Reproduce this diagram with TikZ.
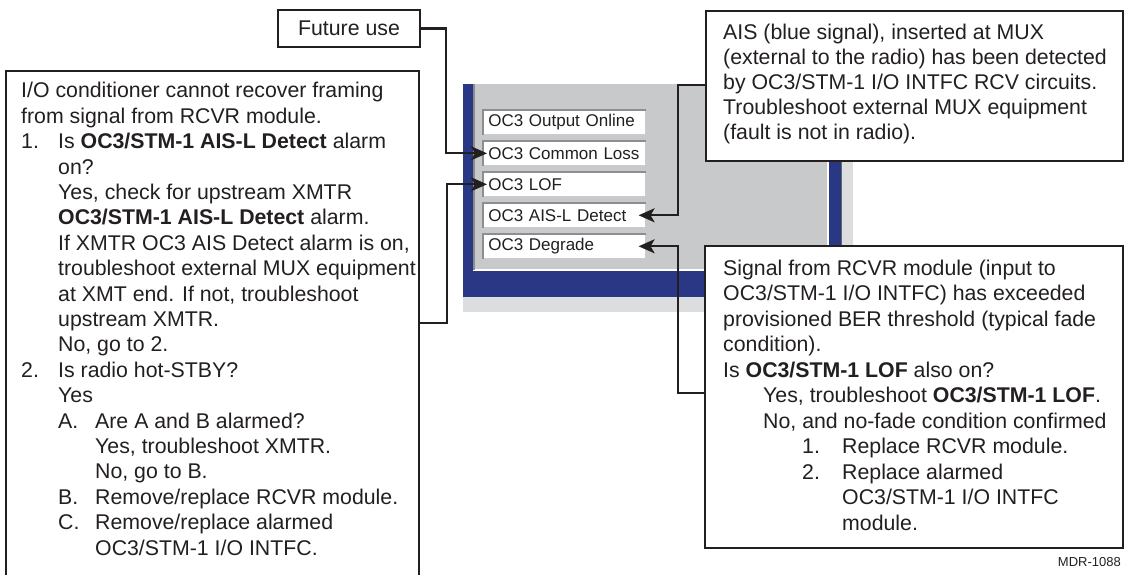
\documentclass[tikz,border=0pt]{standalone}
\usepackage{fontspec}
\setmainfont{Liberation Sans}
\definecolor{ink}{HTML}{231F20}
\definecolor{screenblue}{HTML}{2A3784}
\definecolor{panelgray}{HTML}{C8C9CB}
\definecolor{edgegray}{HTML}{DCDDDE}
\definecolor{fieldline}{HTML}{8C8E91}
\usetikzlibrary{arrows.meta, positioning, calc}
\tikzset{
  callout/.style={
    draw=ink, fill=white, line width=2pt, inner sep=0pt,
    anchor=north west, text=ink,
    font=\fontsize{21.3pt}{25.5pt}\selectfont
  },
  calltext/.style={
    font=\fontsize{21.3pt}{#1}\selectfont, text=ink,
    align=left, inner sep=0pt, anchor=base west
  },
  calltext/.default=25.5pt,
  field/.style={
    fill=white, draw=black!20, line width=0.6pt,
    minimum width=162pt, minimum height=24pt, text width=152pt,
    inner xsep=5pt, inner ysep=0pt, align=left, anchor=north west,
    font=\fontsize{17pt}{20pt}\selectfont, text=ink
  },
  arr/.style={-{Stealth[length=16pt,width=14pt,inset=4pt]}, line width=2.2pt, draw=ink},
  lbl/.style={font=\fontsize{13pt}{15pt}\selectfont, text=ink, inner sep=0pt},
}
\newcommand{\indentby}[1]{\hspace*{#1pt}}
\newcommand{\itemlbl}[2][37]{\makebox[#1pt][l]{#2}}

\begin{document}
\begin{tikzpicture}[x=1pt, y=-1pt]
    \useasboundingbox (0,0) rectangle (1127,574);

    % alarm screen
    \fill[edgegray] (463,84) rectangle (853,312);
    \fill[screenblue] (463,84) rectangle (841,297);
    \draw[black!60, line width=1pt] (841.5,84) -- (841.5,297);
    \fill[panelgray] (473,84) rectangle (828,270);
    \draw[white, line width=1.5pt] (473,270) -- (828,270) -- (828,84);
    \draw[black!45, line width=2pt] (474,84) -- (474,270);

    \foreach \name/\top/\txt in {f1/110/OC3 Output Online, f2/141/OC3 Common Loss,
        f3/172/OC3 LOF, f4/203/OC3 AIS-L Detect, f5/234/OC3 Degrade} {
      \node[field] (\name) at (483,\top) {\txt};
      \draw[fieldline, line width=1.5pt] (\name.south west) |- (\name.north east);
    }

    % callouts (text nodes sit on the baseline of their last line)
    \node[callout, minimum width=142pt, minimum height=37pt] (future) at (277,9) {Future use};

    \node[callout, minimum width=413pt, minimum height=530pt] (cond) at (5,70) {};
    \node[calltext=25.4pt] (condtext) at (21,555) {%
      I/O conditioner cannot recover framing\\
      from signal from RCVR module.\\
      \itemlbl{1.}Is \textbf{OC3/STM-1 AIS-L Detect} alarm\\
      \indentby{37}on?\\
      \indentby{37}Yes, check for upstream XMTR\\
      \indentby{37}\textbf{OC3/STM-1 AIS-L Detect} alarm.\\
      \indentby{37}If XMTR OC3 AIS Detect alarm is on,\\
      \indentby{37}troubleshoot external MUX equipment\\
      \indentby{37}at XMT end. If not, troubleshoot\\
      \indentby{37}upstream XMTR.\\
      \indentby{37}No, go to 2.\\
      \itemlbl{2.}Is radio hot-STBY?\\
      \indentby{37}Yes\\
      \indentby{37}\itemlbl{A.}Are A and B alarmed?\\
      \indentby{74}Yes, troubleshoot XMTR.\\
      \indentby{74}No, go to B.\\
      \indentby{37}\itemlbl{B.}Remove/replace RCVR module.\\
      \indentby{37}\itemlbl{C.}Remove/replace alarmed\\
      \indentby{74}OC3/STM-1 I/O INTFC.};

    \node[callout, minimum width=417pt, minimum height=150pt] (ais) at (705,10) {};
    \node[calltext=25pt] (aistext) at (723,139) {%
      AIS (blue signal), inserted at MUX\\
      (external to the radio) has been detected\\
      by OC3/STM-1 I/O INTFC RCV circuits.\\
      Troubleshoot external MUX equipment\\
      (fault is not in radio).};

    \node[callout, minimum width=418pt, minimum height=302pt] (ber) at (704,245) {};
    \node[calltext] (bertext) at (723,530) {%
      Signal from RCVR module (input to\\
      OC3/STM-1 I/O INTFC) has exceeded\\
      provisioned BER threshold (typical fade\\
      condition).\\
      Is \textbf{OC3/STM-1 LOF} also on?\\
      \indentby{40}Yes, troubleshoot \textbf{OC3/STM-1 LOF}.\\
      \indentby{40}No, and no-fade condition confirmed\\
      \indentby{79}\itemlbl[40]{1.}Replace RCVR module.\\
      \indentby{79}\itemlbl[40]{2.}Replace alarmed\\
      \indentby{119}OC3/STM-1 I/O INTFC\\
      \indentby{119}module.};

    \node[lbl, anchor=base east] (fig) at (1121,566) {MDR-1088};

    % pointers
    \draw[arr] (future.east) -- ++(25,0) |- ([xshift=4pt]f2.west);
    \draw[arr] ([yshift=-253pt]cond.north east) -- ++(27,0) |- ([xshift=4pt]f3.west);
    \draw[arr] ([yshift=-75pt]ais.north west) -- ++(-27,0) |- ([xshift=-7pt]f4.east);
    \draw[arr] ([yshift=-148pt]ber.north west) -- ++(-26,0) |- ([xshift=-7pt]f5.east);
\end{tikzpicture}
\end{document}
